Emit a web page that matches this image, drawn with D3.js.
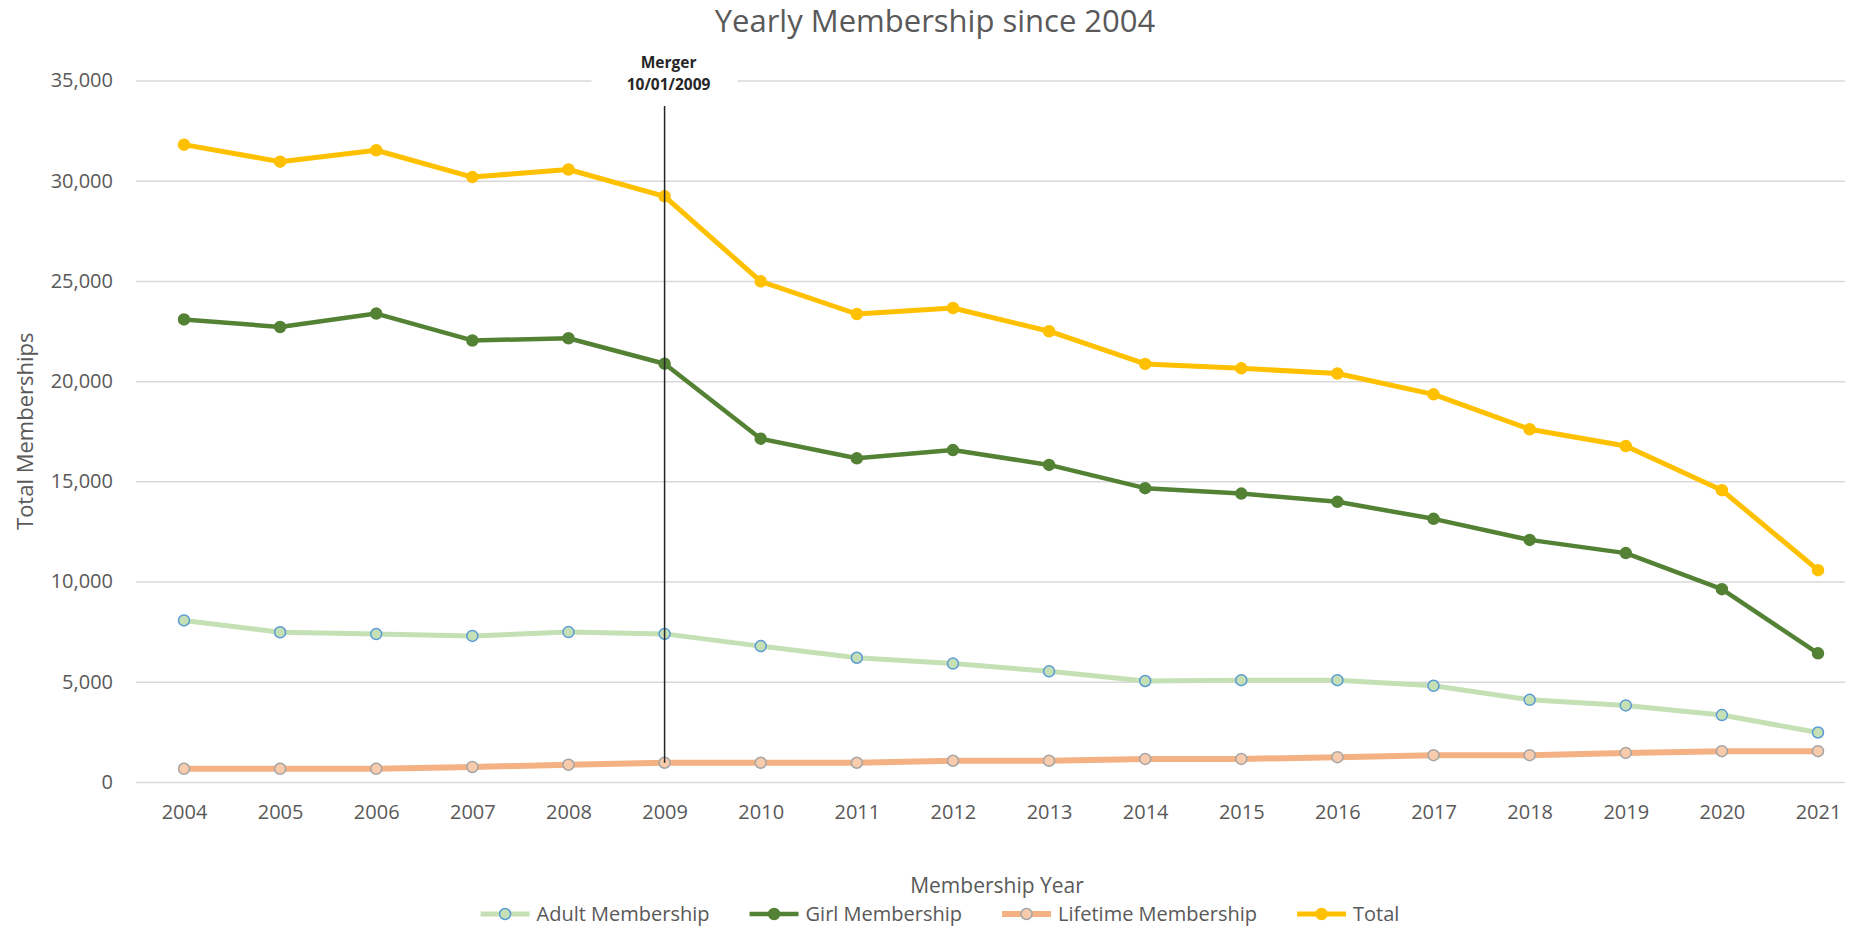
<!DOCTYPE html>
<html>
<head>
<meta charset="utf-8">
<script src="https://cdn.jsdelivr.net/npm/d3@7"></script>
<style>
    body { margin: 0; background: #fff; }
    svg { display: block; }
</style>
</head>
<body>
<div id="chart"></div>
<script>
// values
var years = [2004, 2005, 2006, 2007, 2008, 2009, 2010, 2011, 2012, 2013, 2014, 2015, 2016, 2017, 2018, 2019, 2020, 2021]
var adultMembership = [8060, 7470, 7380, 7290, 7480, 7390, 6780, 6200, 5910, 5520, 5040, 5080, 5080, 4800, 4100, 3820, 3340, 2470]
var girlMembership = [23080, 22700, 23370, 22030, 22140, 20870, 17130, 16150, 16560, 15820, 14660, 14390, 13980, 13130, 12080, 11420, 9620, 6420]
var lifetimeMembership = [660, 660, 660, 750, 860, 960, 960, 960, 1060, 1060, 1150, 1150, 1240, 1340, 1340, 1450, 1540, 1540]
var totalMembership = [31800, 30950, 31520, 30180, 30560, 29220, 24980, 23350, 23650, 22490, 20860, 20640, 20380, 19340, 17600, 16760, 14560, 10570]
var yTicks = [0, 5000, 10000, 15000, 20000, 25000, 30000, 35000]
var mergerYear = 2009
var mergerLabel = ['Merger', '10/01/2009']

var series = [
    { name: 'Adult Membership', values: adultMembership, line: '#c5e0b4', fill: '#c5e0b4', stroke: '#5b9bd5', width: 5, r: 5.5 },
    { name: 'Girl Membership', values: girlMembership, line: '#548235', fill: '#548235', stroke: '#548235', width: 4.5, r: 5.5 },
    { name: 'Lifetime Membership', values: lifetimeMembership, line: '#f4b183', fill: '#f8cbad', stroke: '#a5a5a5', width: 6, r: 5.5 },
    { name: 'Total', values: totalMembership, line: '#ffc000', fill: '#ffc000', stroke: '#ffc000', width: 5, r: 5.5 }
]

var svgWidth = 1856,
    svgHeight = 928

// grid spans the category bands; points sit in the band centres
var grid = { left: 136, right: 1845 }
var plot = { left: 184, right: 1818, top: 80.5, bottom: 782 }

var labelFont = '"Open Sans", "DejaVu Sans", sans-serif'

var svg = d3.select('#chart').append('svg')
    .attr('width', svgWidth)
    .attr('height', svgHeight)
    .style('font-family', labelFont)

var xScale = d3.scalePoint()
    .domain(years)
    .range([plot.left, plot.right])

var yScale = d3.scaleLinear()
    .domain([0, 35000])
    .range([plot.bottom, plot.top])

// title
svg.append('text')
    .attr('x', 935)
    .attr('y', 32)
    .attr('text-anchor', 'middle')
    .attr('fill', '#595959')
    .style('font-size', '31px')
    .text('Yearly Membership since 2004')

// gridlines + y labels
var yAxis = svg.append('g')
    .attr('transform', 'translate(' + grid.left + ',0)')
    .call(d3.axisLeft(yScale)
        .tickValues(yTicks)
        .tickSize(-(grid.right - grid.left))
        .tickPadding(23)
        .tickFormat(d3.format(',')))
yAxis.select('.domain').remove()
yAxis.selectAll('.tick line')
    .attr('stroke', '#d9d9d9')
    .attr('stroke-width', 1.5)
yAxis.selectAll('.tick text')
    .attr('fill', '#595959')
    .style('font-size', '20px')
    .style('font-family', labelFont)

// x labels
var xAxis = svg.append('g')
    .attr('transform', 'translate(0,' + plot.bottom + ')')
    .call(d3.axisBottom(xScale).tickSize(0).tickPadding(23))
xAxis.select('.domain').remove()
xAxis.selectAll('.tick text')
    .attr('fill', '#595959')
    .style('font-size', '20px')
    .style('font-family', labelFont)

// axis titles
svg.append('text')
    .attr('x', 997)
    .attr('y', 893)
    .attr('text-anchor', 'middle')
    .attr('fill', '#595959')
    .style('font-size', '21px')
    .text('Membership Year')

svg.append('text')
    .attr('transform', 'translate(33,' + ((plot.top + plot.bottom) / 2) + ') rotate(-90)')
    .attr('text-anchor', 'middle')
    .attr('fill', '#595959')
    .style('font-size', '22px')
    .text('Total Memberships')

// series
var line = d3.line()
    .x((d, i) => xScale(years[i]))
    .y(d => yScale(d))

series.forEach(s => {
    var g = svg.append('g')
    g.append('path')
        .datum(s.values)
        .attr('fill', 'none')
        .attr('stroke', s.line)
        .attr('stroke-width', s.width)
        .attr('stroke-linejoin', 'round')
        .attr('stroke-linecap', 'round')
        .attr('d', line)
    g.selectAll('circle')
        .data(s.values)
        .enter()
        .append('circle')
        .attr('cx', (d, i) => xScale(years[i]))
        .attr('cy', d => yScale(d))
        .attr('r', s.r)
        .attr('fill', s.fill)
        .attr('stroke', s.stroke)
        .attr('stroke-width', 1.5)
})

// merger marker: vertical line from label down to the lifetime point of that year
var mergerX = xScale(mergerYear)
var mergerIdx = years.indexOf(mergerYear)
svg.append('line')
    .attr('x1', mergerX)
    .attr('x2', mergerX)
    .attr('y1', 106)
    .attr('y2', yScale(lifetimeMembership[mergerIdx]))
    .attr('stroke', '#262626')
    .attr('stroke-width', 1.5)

svg.append('rect')
    .attr('x', mergerX - 73)
    .attr('y', 50)
    .attr('width', 146)
    .attr('height', 48)
    .attr('fill', '#fff')

svg.selectAll('.merger-label')
    .data(mergerLabel)
    .enter()
    .append('text')
    .attr('class', 'merger-label')
    .attr('x', mergerX + 4)
    .attr('y', (d, i) => 68 + i * 22)
    .attr('text-anchor', 'middle')
    .attr('fill', '#262626')
    .style('font-size', '15.5px')
    .style('font-weight', 'bold')
    .text(d => d)

// legend
var legend = svg.append('g')
var legendY = 914,
    swatch = 49,
    gapText = 7,
    gapItem = 40
var lx = 0
series.forEach(s => {
    var item = legend.append('g').attr('transform', 'translate(' + lx + ',0)')
    item.append('line')
        .attr('x1', 0).attr('x2', swatch)
        .attr('y1', legendY).attr('y2', legendY)
        .attr('stroke', s.line)
        .attr('stroke-width', s.width)
    item.append('circle')
        .attr('cx', swatch / 2).attr('cy', legendY)
        .attr('r', s.r)
        .attr('fill', s.fill)
        .attr('stroke', s.stroke)
        .attr('stroke-width', 1.5)
    var t = item.append('text')
        .attr('x', swatch + gapText)
        .attr('y', legendY)
        .attr('dy', '0.35em')
        .attr('fill', '#595959')
        .style('font-size', '20px')
        .text(s.name)
    lx += swatch + gapText + t.node().getComputedTextLength() + gapItem
})
lx -= gapItem
legend.attr('transform', 'translate(' + (940 - lx / 2) + ',0)')
</script>
</body>
</html>
